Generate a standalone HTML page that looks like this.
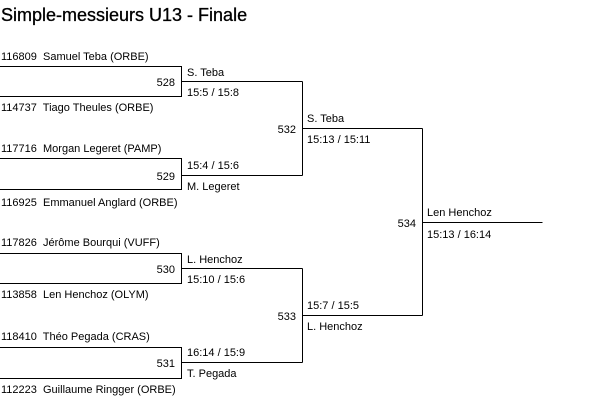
<!DOCTYPE html>
<html><head><meta charset="utf-8"><style>
html,body{margin:0;padding:0;background:#fff;width:602px;height:403px;overflow:hidden}
svg{display:block}
text{font-family:"Liberation Sans",Arial,sans-serif;font-size:11px;fill:#000;white-space:pre}
</style></head><body>
<svg width="602" height="403" viewBox="0 0 602 403" xml:space="preserve">
<text x="1" y="21" style="font-size:18px" stroke="#000" stroke-width="0.3">Simple-messieurs U13 - Finale</text>
<g stroke="#000" stroke-width="1" fill="none" shape-rendering="crispEdges">
<path d="M0 66.5H181.5V96.5H0M181.5 81.5H302.5"/>
<path d="M0 158.5H181.5V189.5H0M181.5 175.5H302.5"/>
<path d="M0 253.5H181.5V283.5H0M181.5 268.5H302.5"/>
<path d="M0 347.5H181.5V378.5H0M181.5 362.5H302.5"/>
<path d="M302.5 81.5V175.5M302.5 128.5H422.5"/>
<path d="M302.5 268.5V362.5M302.5 315.5H422.5"/>
<path d="M422.5 128.5V315.5M422.5 222.5H542.5"/>
</g>
<text x="1" y="60">116809  Samuel Teba (ORBE)</text>
<text x="1" y="111">114737  Tiago Theules (ORBE)</text>
<text x="1" y="152">117716  Morgan Legeret (PAMP)</text>
<text x="1" y="206">116925  Emmanuel Anglard (ORBE)</text>
<text x="1" y="246">117826  Jérôme Bourqui (VUFF)</text>
<text x="1" y="298">113858  Len Henchoz (OLYM)</text>
<text x="1" y="340">118410  Théo Pegada (CRAS)</text>
<text x="1" y="393">112223  Guillaume Ringger (ORBE)</text>
<g text-anchor="end">
<text x="175" y="86">528</text>
<text x="175" y="180">529</text>
<text x="175" y="273">530</text>
<text x="175" y="367">531</text>
<text x="296" y="133">532</text>
<text x="296" y="320">533</text>
<text x="416" y="227">534</text>
</g>
<text x="187" y="76">S. Teba</text>
<text x="187" y="96">15:5 / 15:8</text>
<text x="187" y="169">15:4 / 15:6</text>
<text x="187" y="190">M. Legeret</text>
<text x="187" y="263">L. Henchoz</text>
<text x="187" y="283">15:10 / 15:6</text>
<text x="187" y="356">16:14 / 15:9</text>
<text x="187" y="377">T. Pegada</text>
<text x="307" y="122">S. Teba</text>
<text x="307" y="143">15:13 / 15:11</text>
<text x="307" y="309">15:7 / 15:5</text>
<text x="307" y="330">L. Henchoz</text>
<text x="427" y="216">Len Henchoz</text>
<text x="427" y="238">15:13 / 16:14</text>
</svg>
</body></html>
